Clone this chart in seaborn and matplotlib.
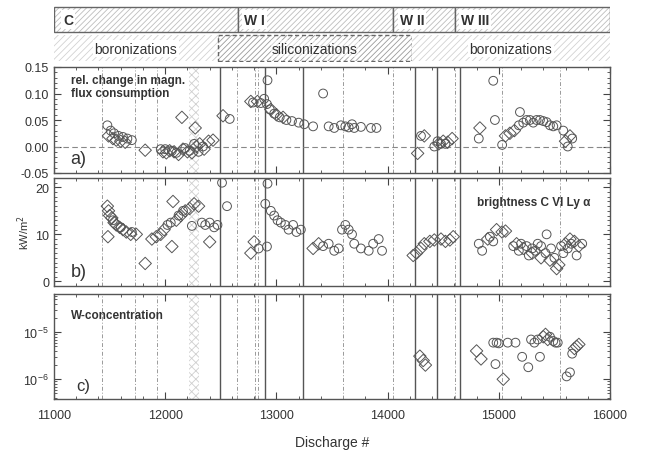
import numpy as np
import pandas as pd
import matplotlib
matplotlib.use("Agg")
import matplotlib.pyplot as plt
from matplotlib.patches import Rectangle
from matplotlib.ticker import MultipleLocator, LogLocator, NullFormatter, FixedLocator
import seaborn as sns

sns.set_theme(style="ticks")
plt.rcParams["font.family"] = ["Liberation Sans", "DejaVu Sans"]
plt.rcParams["hatch.linewidth"] = 0.6

# ---------------- data ----------------
# a) relative change in magnetic flux consumption
a_dia_x = [11490, 11530, 11560, 11600, 11640, 11820, 11980, 12010, 12040, 12080, 12120, 12160,
           12200, 12240, 12280, 12310, 12350, 12390, 12430, 12150, 12270, 12520, 12770, 12830,
           12950, 13000, 13060, 14270, 14330, 14460, 14500, 14540, 14580, 14830, 15060, 15100,
           15140, 15600, 15640]
a_dia_y = [0.020, 0.015, 0.012, 0.010, 0.008, -0.007, -0.010, -0.012, -0.008, -0.010, -0.015, -0.005,
           -0.010, -0.012, 0.000, 0.005, -0.005, 0.010, 0.012, 0.055, 0.035, 0.058, 0.085, 0.085,
           0.070, 0.060, 0.055, -0.013, 0.020, 0.005, 0.010, 0.008, 0.015, 0.035, 0.020, 0.025,
           0.030, 0.010, 0.020]
a_cir_x = [11480, 11510, 11540, 11580, 11620, 11660, 11700, 11960, 12000, 12060, 12100, 12180,
           12220, 12260, 12300, 12340, 12580, 12790, 12860, 12890, 12915, 12920, 12940, 12980,
           13030, 13090, 13140, 13200, 13250, 13330, 13420, 13470, 13520, 13580, 13620, 13650,
           13680, 13700, 13760, 13850, 13900, 14300, 14420, 14450, 14480, 14520, 14820, 14950,
           14965, 15030, 15180, 15190, 15220, 15250, 15280, 15310, 15340, 15370, 15400, 15430,
           15460, 15490, 15520, 15580, 15620, 15660]
a_cir_y = [0.040, 0.030, 0.025, 0.020, 0.018, 0.015, 0.012, -0.005, -0.005, -0.008, -0.012, -0.003,
           -0.008, 0.005, -0.010, 0.000, 0.052, 0.083, 0.082, 0.090, 0.080, 0.125, 0.070, 0.062,
           0.055, 0.050, 0.048, 0.045, 0.042, 0.038, 0.100, 0.038, 0.035, 0.040, 0.038, 0.036,
           0.042, 0.035, 0.037, 0.035, 0.035, 0.020, 0.000, 0.010, 0.005, 0.005, 0.015, 0.124,
           0.050, 0.003, 0.040, 0.065, 0.045, 0.050, 0.050, 0.045, 0.050, 0.050, 0.048, 0.046,
           0.040, 0.038, 0.040, 0.030, 0.000, 0.015]

# b) brightness C VI Ly-alpha [kW/m^2]
b_dia_x = [11480, 11490, 11500, 11520, 11540, 11560, 11590, 11620, 11650, 11690, 11740, 11485,
           11820, 11880, 11920, 11960, 11990, 12060, 12070, 12100, 12140, 12180, 12220, 12260,
           12300, 12400, 12770, 12800, 13330, 13380, 14230, 14260, 14300, 14330, 14380, 14420,
           14480, 14520, 14560, 14590, 14900, 14980, 15030, 15060, 15160, 15220, 15300, 15380,
           15460, 15520, 15540, 15600, 15640, 15680, 15720]
b_dia_y = [16.0, 15.0, 14.0, 13.5, 12.5, 12.0, 11.5, 11.0, 10.5, 10.0, 10.0, 9.5,
           3.8, 9.0, 9.5, 10.0, 11.0, 7.4, 17.0, 13.0, 14.0, 15.0, 15.5, 16.5,
           16.0, 8.4, 6.0, 8.4, 7.0, 8.0, 5.5, 6.0, 7.0, 8.0, 8.5, 8.8,
           9.0, 8.5, 8.8, 9.5, 9.0, 11.0, 10.5, 10.7, 8.0, 7.0, 6.0, 5.0,
           4.5, 2.7, 3.5, 8.0, 9.0, 8.5, 7.5]
b_cir_x = [11530, 11600, 11700, 12020, 12050, 12120, 12160, 12240, 12330, 12360, 12400, 12440,
           12470, 12511, 12556, 12840, 12915, 12900, 12920, 12950, 12980, 13010, 13040, 13080,
           13110, 13150, 13180, 13220, 13420, 13470, 13520, 13560, 13590, 13620, 13650, 13680,
           13700, 13760, 13830, 13870, 13920, 13950, 14820, 14850, 14920, 14950, 15130, 15180,
           15200, 15250, 15270, 15300, 15330, 15350, 15380, 15420, 15430, 15470, 15500, 15560,
           15580, 15620, 15650, 15700, 15750]
b_cir_y = [13.0, 11.5, 10.5, 12.0, 12.5, 14.0, 15.0, 11.8, 12.5, 12.0, 12.5, 11.5,
           12.0, 21.0, 16.0, 7.0, 7.4, 16.5, 20.8, 15.0, 14.0, 13.0, 12.5, 12.0,
           11.0, 12.0, 10.5, 11.0, 7.5, 8.0, 6.5, 7.0, 11.0, 12.0, 11.0, 10.0,
           8.0, 7.0, 6.5, 8.0, 9.0, 6.5, 8.0, 6.5, 9.5, 8.5, 7.5, 6.5,
           8.0, 7.5, 5.5, 7.0, 6.5, 8.0, 7.5, 6.0, 10.0, 7.0, 5.0, 7.5,
           6.0, 7.0, 8.0, 5.5, 8.0]

# c) W-concentration
c_dia_x = [14290, 14320, 14340, 14800, 14840, 15040, 15400, 15420, 15440, 15680, 15700, 15720]
c_dia_y = [3.1e-6, 2.5e-6, 2.0e-6, 4.0e-6, 2.7e-6, 1.0e-6, 8.0e-6, 9.0e-6, 7.0e-6, 4.5e-6, 5.0e-6, 5.5e-6]
c_cir_x = [14950, 14980, 15000, 15080, 15150, 14970, 15210, 15265, 15290, 15320, 15350, 15370,
           15460, 15490, 15510, 15530, 15610, 15640, 15660]
c_cir_y = [6.0e-6, 6.0e-6, 5.8e-6, 6.0e-6, 6.0e-6, 2.1e-6, 3.0e-6, 1.8e-6, 7.0e-6, 6.0e-6, 7.0e-6, 3.0e-6,
           8.0e-6, 6.5e-6, 6.0e-6, 6.0e-6, 1.15e-6, 1.4e-6, 3.5e-6]

# event markers (discharge numbers)
vents_solid = [12493, 12897, 13239, 14246, 14444, 14651]
events_dashed = [11432, 11728, 11926, 12645, 12807, 12835, 13599, 14049, 14606, 15029, 15550]
strip_range = (12215, 12300)

# header bars: (start, end, label)
phases = [(11000, 12655, "C"), (12655, 14049, "W I"), (14049, 14606, "W II"), (14606, 16000, "W III")]
phase_label_x = [11080, 12710, 14110, 14660]
walls = [(11000, 12475, "boronizations"), (12475, 14220, "siliconizations"), (14220, 16000, "boronizations")]

# ---------------- figure ----------------
fig = plt.figure(figsize=(6.48, 4.52), dpi=100)
L, W = 54 / 648, 556 / 648
ax_h = fig.add_axes([L, 1 - 63 / 452, W, 57 / 452])
ax_a = fig.add_axes([L, 1 - 174 / 452, W, 106 / 452])
ax_b = fig.add_axes([L, 1 - 287 / 452, W, 108 / 452])
ax_c = fig.add_axes([L, 1 - 400 / 452, W, 105 / 452])

edge = "#555555"
mk = dict(facecolor="none", edgecolor=edge, linewidth=0.7, s=40, zorder=3, legend=False)

# header
ax_h.set_xlim(11000, 16000)
ax_h.set_ylim(0, 2)
ax_h.axis("off")
for (x0, x1, lab), lx in zip(phases, phase_label_x):
    ax_h.add_patch(Rectangle((x0, 1.05), x1 - x0, 0.88, facecolor="white",
                             edgecolor="#bdbdbd", hatch="//////", linewidth=0))
    ax_h.add_patch(Rectangle((x0, 1.05), x1 - x0, 0.88, facecolor="none",
                             edgecolor="#666666", linewidth=1.0))
    ax_h.text(lx, 1.49, lab, ha="left", va="center", fontsize=10, fontweight="bold",
              color="#333333", bbox=dict(facecolor="white", edgecolor="none", pad=1.5))
for i, (x0, x1, lab) in enumerate(walls):
    sil = lab.startswith("sil")
    ax_h.add_patch(Rectangle((x0, 0.04), x1 - x0, 0.9, facecolor="white",
                             edgecolor="#9a9a9a" if sil else "#d2d2d2",
                             hatch="//////" if sil else "/////", linewidth=0))
    if sil:
        ax_h.add_patch(Rectangle((x0, 0.04), x1 - x0, 0.9, facecolor="none", edgecolor="#666666",
                                 linewidth=1.0, linestyle=(0, (3, 2))))
    ax_h.text((x0 + x1) / 2, 0.47, lab, ha="center", va="center", fontsize=10, color="#333333",
              bbox=dict(facecolor="white", edgecolor="none", pad=1.0, alpha=0.55 if sil else 1.0))

panels = [ax_a, ax_b, ax_c]
for ax in panels:
    ax.set_xlim(11000, 16000)
    for x in vents_solid:
        ax.axvline(x, color="#555555", linewidth=1.0, zorder=1)
    for x in events_dashed:
        ax.axvline(x, color="#9a9a9a", linewidth=0.7, linestyle=(0, (4, 2, 1, 2)), zorder=1)
    ax.axvspan(*strip_range, facecolor="none", edgecolor="#cfcfcf", hatch="xxxx", linewidth=0, zorder=1)
    ax.tick_params(which="both", direction="in", top=True, right=True, colors="#444444",
                   labelsize=9, labelcolor="#333333")
    ax.tick_params(which="major", length=5, width=0.8)
    ax.tick_params(which="minor", length=2.5, width=0.6)
    ax.tick_params(axis="x", pad=7)
    ax.xaxis.set_major_locator(MultipleLocator(1000))
    ax.xaxis.set_minor_locator(MultipleLocator(200))
    for s in ax.spines.values():
        s.set_color("#555555")
        s.set_linewidth(1.0)
    if ax is not ax_c:
        ax.set_xticklabels([])

# panel a
sns.scatterplot(x=a_dia_x, y=a_dia_y, marker="D", ax=ax_a, **mk)
sns.scatterplot(x=a_cir_x, y=a_cir_y, marker="o", ax=ax_a, **mk)
ax_a.axhline(0, color="#888888", linewidth=0.8, linestyle=(0, (5, 3)), zorder=1)
ax_a.set_ylim(-0.05, 0.15)
ax_a.yaxis.set_major_locator(MultipleLocator(0.05))
ax_a.yaxis.set_minor_locator(MultipleLocator(0.01))
ax_a.yaxis.set_major_formatter(matplotlib.ticker.FormatStrFormatter("%.2f"))
ax_a.text(0.03, 0.93, "rel. change in magn.\nflux consumption", transform=ax_a.transAxes,
          ha="left", va="top", fontsize=8.5, fontweight="bold", color="#333333", linespacing=1.1)
ax_a.text(0.03, 0.06, "a)", transform=ax_a.transAxes, ha="left", va="bottom", fontsize=13, color="#333333")

# panel b
sns.scatterplot(x=b_dia_x, y=b_dia_y, marker="D", ax=ax_b, **mk)
sns.scatterplot(x=b_cir_x, y=b_cir_y, marker="o", ax=ax_b, **mk)
ax_b.set_ylim(-1, 22)
ax_b.yaxis.set_major_locator(FixedLocator([0, 10, 20]))
ax_b.yaxis.set_minor_locator(MultipleLocator(1))
ax_b.set_ylabel("kW/m$^2$", fontsize=8, color="#333333", labelpad=2)
ax_b.text(0.965, 0.78, "brightness C VI Ly \u03b1", transform=ax_b.transAxes, ha="right",
          va="center", fontsize=8.5, fontweight="bold", color="#333333")
ax_b.text(0.03, 0.06, "b)", transform=ax_b.transAxes, ha="left", va="bottom", fontsize=13, color="#333333")

# panel c
sns.scatterplot(x=c_dia_x, y=c_dia_y, marker="D", ax=ax_c, **mk)
sns.scatterplot(x=c_cir_x, y=c_cir_y, marker="o", ax=ax_c, **mk)
ax_c.set_yscale("log")
ax_c.set_ylim(3.8e-7, 6.5e-5)
ax_c.yaxis.set_major_locator(FixedLocator([1e-6, 1e-5]))
ax_c.yaxis.set_minor_locator(LogLocator(base=10, subs=np.arange(2, 10)))
ax_c.yaxis.set_minor_formatter(NullFormatter())
ax_c.tick_params(axis="y", pad=4)
ax_c.text(0.03, 0.80, "W-concentration", transform=ax_c.transAxes, ha="left", va="center",
          fontsize=8.5, fontweight="bold", color="#333333")
ax_c.text(0.04, 0.06, "c)", transform=ax_c.transAxes, ha="left", va="bottom", fontsize=12, color="#333333")
ax_c.set_xlabel("Discharge #", fontsize=10, color="#333333", labelpad=10)

fig.savefig("out.png", dpi=100)
